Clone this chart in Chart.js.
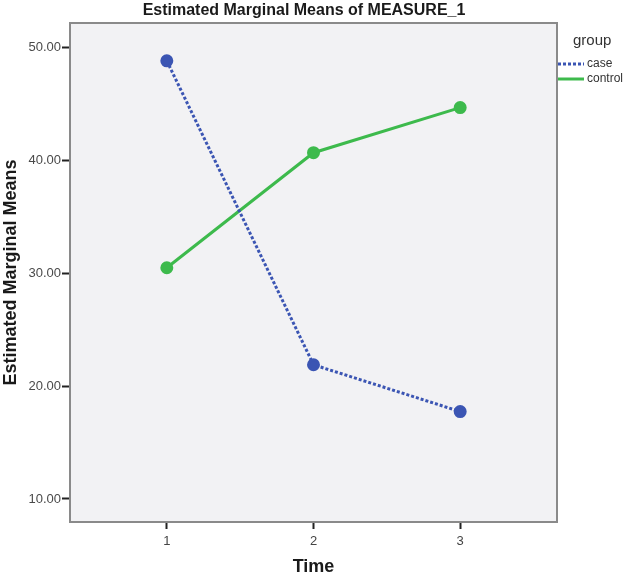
<!DOCTYPE html>
<html>
<head>
<meta charset="utf-8">
<script src="https://cdn.jsdelivr.net/npm/chart.js@4"></script>
<style>
    body { margin: 0; background: #ffffff; }
    #wrap { width: 627px; height: 578px; }
</style>
</head>
<body>
<div id="wrap"><canvas id="emmChart" width="627" height="578"></canvas></div>
<script>
const timePoints = [1, 2, 3];
const caseMeans = [48.85, 21.9, 17.75];
const controlMeans = [30.5, 40.7, 44.7];
const yTicks = [10, 20, 30, 40, 50];

const chartTitle = "Estimated Marginal Means of MEASURE_1";
const legendTitle = "group";

// plot background, frame, title and the SPSS style legend
const spssLook = {
    id: "spssLook",
    beforeDraw(chart) {
        const { ctx, chartArea: a } = chart;
        ctx.save();
        ctx.fillStyle = "#f2f2f4";
        ctx.fillRect(a.left, a.top, a.right - a.left, a.bottom - a.top);
        ctx.restore();
    },
    afterDraw(chart) {
        const { ctx, chartArea: a } = chart;
        ctx.save();
        ctx.strokeStyle = "#8a8a8a";
        ctx.lineWidth = 2;
        ctx.strokeRect(a.left, a.top, a.right - a.left, a.bottom - a.top);

        ctx.fillStyle = "#1a1a1a";
        ctx.font = "bold 16px 'Liberation Sans', Arial, sans-serif";
        ctx.textAlign = "center";
        ctx.textBaseline = "middle";
        ctx.fillText(chartTitle, 304, 11);

        ctx.font = "15px 'Liberation Sans', Arial, sans-serif";
        ctx.textAlign = "left";
        ctx.fillStyle = "#333";
        ctx.fillText(legendTitle, 573, 41);

        ctx.font = "12px 'Liberation Sans', Arial, sans-serif";
        chart.data.datasets.forEach((ds, i) => {
            const y = 64 + i * 15;
            ctx.strokeStyle = ds.borderColor;
            ctx.lineWidth = 3;
            ctx.setLineDash(ds.borderDash || []);
            ctx.beginPath();
            ctx.moveTo(558, y);
            ctx.lineTo(584, y);
            ctx.stroke();
            ctx.setLineDash([]);
            ctx.fillStyle = "#333";
            ctx.fillText(ds.label, 587, y);
        });
        ctx.restore();
    }
};

const ctx = document.getElementById("emmChart").getContext("2d");
new Chart(ctx, {
    type: "line",
    data: {
        datasets: [
            {
                label: "case",
                data: timePoints.map((t, i) => ({ x: t, y: caseMeans[i] })),
                borderColor: "#3b55b3",
                backgroundColor: "#3b55b3",
                borderWidth: 3,
                borderDash: [3, 2],
                pointRadius: 5,
                pointHoverRadius: 5
            },
            {
                label: "control",
                data: timePoints.map((t, i) => ({ x: t, y: controlMeans[i] })),
                borderColor: "#3dba4c",
                backgroundColor: "#3dba4c",
                borderWidth: 3,
                pointRadius: 5,
                pointHoverRadius: 5
            }
        ]
    },
    options: {
        responsive: false,
        animation: false,
        layout: { padding: { top: 23, right: 70, left: 0, bottom: 0 } },
        plugins: {
            legend: { display: false },
            tooltip: { enabled: false }
        },
        scales: {
            x: {
                type: "linear",
                min: 0.34,
                max: 3.66,
                afterBuildTicks: scale => { scale.ticks = timePoints.map(v => ({ value: v })); },
                afterFit: scale => { scale.height = 56; },
                grid: { drawOnChartArea: false, color: "#222", tickLength: 7, tickWidth: 2 },
                border: { display: false },
                ticks: {
                    color: "#444",
                    padding: 5,
                    font: { family: "'Liberation Sans', Arial, sans-serif", size: 13 }
                },
                title: {
                    display: true,
                    text: "Time",
                    color: "#1a1a1a",
                    padding: { top: 8, bottom: 0 },
                    font: { family: "'Liberation Sans', Arial, sans-serif", size: 18, weight: "bold" }
                }
            },
            y: {
                min: 7.96,
                max: 52.2,
                afterBuildTicks: scale => { scale.ticks = yTicks.map(v => ({ value: v })); },
                afterFit: scale => { scale.width = 70; },
                grid: { drawOnChartArea: false, color: "#222", tickLength: 8, tickWidth: 2 },
                border: { display: false },
                ticks: {
                    color: "#4a4a4a",
                    padding: 1,
                    callback: v => Number(v).toFixed(2),
                    font: { family: "'Liberation Sans', Arial, sans-serif", size: 13 }
                },
                title: {
                    display: true,
                    text: "Estimated Marginal Means",
                    color: "#1a1a1a",
                    padding: { top: 0, bottom: 2 },
                    font: { family: "'Liberation Sans', Arial, sans-serif", size: 18, weight: "bold" }
                }
            }
        }
    },
    plugins: [spssLook]
});
</script>
</body>
</html>
